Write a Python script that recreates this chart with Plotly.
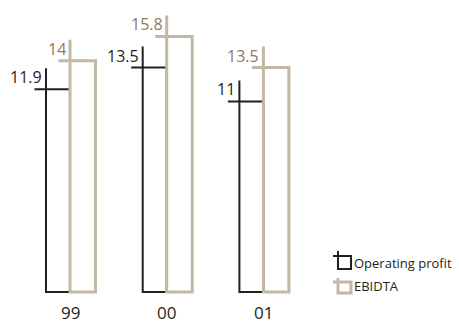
import plotly.graph_objects as go

# ---- data ----
categories = ["99", "00", "01"]
operating_profit = [11.9, 13.5, 11.0]
ebidta = [14.0, 15.8, 13.5]
series_names = ["Operating profit", "EBIDTA"]

# ---- style ----
BLACK = "#231f20"
TAN = "#c3b7a6"
TAN_TEXT = "#8c7b62"
FONT = "Open Sans"

W, H = 459, 323
# pixel -> data scales
PX_PER_X = 96.7          # pixels per category step
X0_PX = 70.0             # pixel x of first category centre
PX_PER_Y = 13.52         # pixels per value unit
Y0_PX = 250.1            # pixel y of value 0

x_range = [-X0_PX / PX_PER_X, (W - X0_PX) / PX_PER_X]
y_range = [(Y0_PX - H) / PX_PER_Y, Y0_PX / PX_PER_Y]

base = (Y0_PX - 292) / PX_PER_Y       # bottom of bars
ext_v = 21 / PX_PER_Y                 # vertical stub above bar top
ext_h = 11.5 / PX_PER_X               # horizontal stub left of bar
w_black = 24 / PX_PER_X
w_tan = 25.5 / PX_PER_X

fig = go.Figure()

def crop_bar(xl, xr, v, color, width, name):
    fig.add_trace(go.Scatter(
        x=[xl, xl, xr, xr, xl - ext_h],
        y=[v + ext_v, base, base, v, v],
        mode="lines",
        line=dict(color=color, width=width),
        name=name, showlegend=False, hoverinfo="skip",
    ))

annotations = []
for i, cat in enumerate(categories):
    xl = i - w_black
    crop_bar(xl, i, operating_profit[i], BLACK, 2, series_names[0])
    annotations.append(dict(
        x=xl, y=operating_profit[i], xref="x", yref="y",
        text=f"{operating_profit[i]:g}", showarrow=False,
        xanchor="right", yanchor="bottom", xshift=-2, yshift=-1,
        font=dict(family=FONT, size=16, color=BLACK),
    ))
for i, cat in enumerate(categories):
    crop_bar(i, i + w_tan, ebidta[i], TAN, 3, series_names[1])
    annotations.append(dict(
        x=i, y=ebidta[i], xref="x", yref="y",
        text=f"{ebidta[i]:g}", showarrow=False,
        xanchor="right", yanchor="bottom", xshift=-2, yshift=-1,
        font=dict(family=FONT, size=16, color=TAN_TEXT),
    ))
    annotations.append(dict(
        x=i, y=(Y0_PX - 312) / PX_PER_Y, xref="x", yref="y",
        text=cat, showarrow=False, xanchor="center", yanchor="middle",
        borderpad=0,
        font=dict(family=FONT, size=17, color=BLACK),
    ))

# ---- manual legend (paper coords) ----
def px(xp):
    return xp / W

def py(yp):
    return 1 - yp / H

shapes = []
legend_items = [(series_names[0], BLACK, 2, 251, 256, 269, 263),
                (series_names[1], TAN, 3, 278, 282, 293, 286)]
for name, color, lw, ytop, yh, ybot, ytext in legend_items:
    path = (f"M {px(338)} {py(ytop)} L {px(338)} {py(ybot)} L {px(351)} {py(ybot)} "
            f"L {px(351)} {py(yh)} L {px(333)} {py(yh)}")
    shapes.append(dict(type="path", xref="paper", yref="paper", path=path,
                       line=dict(color=color, width=lw)))
    annotations.append(dict(
        x=px(352), y=py(ytext), xref="paper", yref="paper", text=name,
        showarrow=False, xanchor="left", yanchor="middle",
        font=dict(family=FONT, size=13, color=BLACK),
    ))

fig.update_layout(
    width=W, height=H,
    margin=dict(l=0, r=0, t=0, b=0),
    paper_bgcolor="white", plot_bgcolor="white",
    xaxis=dict(range=x_range, visible=False, fixedrange=True),
    yaxis=dict(range=y_range, visible=False, fixedrange=True),
    showlegend=False,
    annotations=annotations,
    shapes=shapes,
)

fig.write_html("out.html")
